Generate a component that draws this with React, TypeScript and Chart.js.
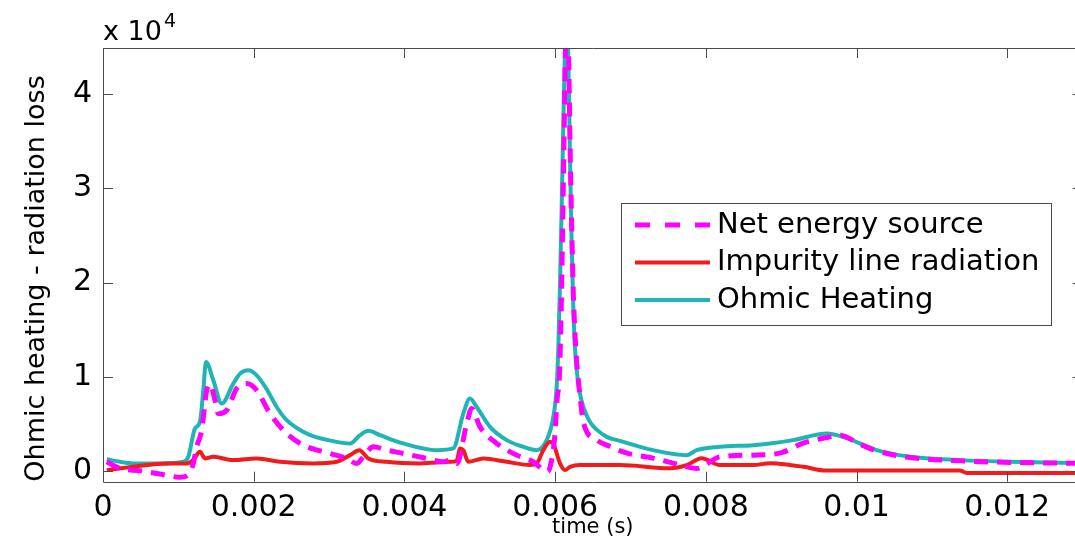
import React, { useEffect, useRef } from 'react';
import { Chart, registerables } from 'chart.js';

Chart.register(...registerables);

// ---------------- data (time in s, value in W) ----------------
const seriesLabels = ['Net energy source', 'Impurity line radiation', 'Ohmic Heating'];

const netT = [
  0.00005, 0.000226, 0.000491, 0.000756, 0.001022, 0.001111, 0.001198, 0.001243, 0.00131, 0.001376,
  0.00142, 0.001486, 0.00153, 0.001642, 0.001774, 0.001907, 0.00204, 0.002216, 0.002438, 0.002658,
  0.003012, 0.003234, 0.003367, 0.003454, 0.003587, 0.003765, 0.003985, 0.004296, 0.004516, 0.004605,
  0.004694, 0.004827, 0.004893, 0.005003, 0.005225, 0.00549, 0.005711, 0.005843, 0.005888, 0.005932,
  0.005999, 0.006025, 0.006056, 0.006078, 0.006098, 0.006118, 0.006138, 0.006158, 0.006178, 0.006198,
  0.00622, 0.006241, 0.006264, 0.006287, 0.00633, 0.006374, 0.006552, 0.006728, 0.006954, 0.007299,
  0.007564, 0.007879, 0.008188, 0.00863, 0.008984, 0.009294, 0.009648, 0.009781, 0.010046, 0.010268,
  0.01071, 0.011373, 0.012037, 0.013,
];
const netV = [
  980, 280, 30, -320, -650, -500, 800, 2570, 4340, 8570,
  9200, 7510, 6100, 6450, 8750, 9280, 8570, 6100, 3990, 2750,
  1870, 1340, 810, 1510, 2570, 2220, 1870, 1340, 980, 1160,
  800, 5040, 6630, 4690, 2930, 1690, 980, 100, -50, 400,
  4000, 7500, 10000, 16000, 25000, 35000, 45000, 50000, 45000, 35000,
  26000, 19000, 14500, 11500, 8000, 5200, 3300, 2600, 1900, 1370,
  840, 280, 1510, 1690, 1900, 2960, 3630, 3800, 2850, 2150,
  1430, 1080, 920, 820,
];

const impurityT = [
  0.00005, 0.000398, 0.000845, 0.001111, 0.001198, 0.001287, 0.001354, 0.001464, 0.001729, 0.00204,
  0.002349, 0.002787, 0.003101, 0.003278, 0.003401, 0.003521, 0.003765, 0.004207, 0.004605, 0.004694,
  0.004738, 0.004781, 0.004848, 0.005047, 0.005358, 0.005667, 0.005756, 0.005843, 0.005932, 0.005976,
  0.006065, 0.006131, 0.006198, 0.00633, 0.006861, 0.007525, 0.007746, 0.007945, 0.008188, 0.00863,
  0.008851, 0.00894, 0.009294, 0.009604, 0.011373, 0.011462, 0.013,
];
const impurityV = [
  100, 450, 810, 810, 1160, 2040, 1340, 1510, 1160, 1340,
  980, 810, 980, 1690, 2220, 1340, 980, 810, 980, 1100,
  2400, 2220, 980, 1340, 980, 630, 810, 2220, 3100, 2900,
  810, 100, 450, 630, 630, 300, 630, 1370, 630, 630,
  840, 810, 450, 50, 50, -200, -200,
];

const ohmicT = [
  0.00005, 0.000226, 0.000398, 0.000756, 0.001066, 0.001132, 0.001221, 0.001287, 0.001331, 0.001367,
  0.001464, 0.001575, 0.001729, 0.001818, 0.001928, 0.00204, 0.002172, 0.002305, 0.002438, 0.002658,
  0.002787, 0.003101, 0.003278, 0.003411, 0.003521, 0.003676, 0.003985, 0.004429, 0.004649, 0.004781,
  0.00487, 0.004959, 0.005136, 0.005358, 0.005578, 0.005756, 0.005888, 0.005976, 0.006021, 0.006042,
  0.006065, 0.006087, 0.006109, 0.006131, 0.006151, 0.006171, 0.006198, 0.00622, 0.006241, 0.006264,
  0.006304, 0.00633, 0.006374, 0.006463, 0.006552, 0.006685, 0.006861, 0.007299, 0.007746, 0.007879,
  0.008188, 0.00863, 0.008851, 0.009157, 0.009604, 0.00987, 0.010046, 0.010268, 0.01071, 0.011373,
  0.012037, 0.013,
];
const ohmicV = [
  1250, 980, 810, 800, 980, 1510, 4520, 5220, 8570, 11570,
  9630, 7160, 9280, 10340, 10690, 10160, 8700, 6800, 5400, 4160,
  3700, 3100, 2930, 3810, 4270, 3810, 2930, 2220, 2400, 6100,
  7690, 6800, 4690, 3280, 2570, 2220, 3280, 5750, 9000, 13000,
  20000, 28000, 37000, 45000, 50000, 46000, 33000, 24000, 17500, 13000,
  9500, 8200, 6800, 5200, 4400, 3630, 3200, 2220, 1690, 2220,
  2570, 2750, 2930, 3280, 3990, 3500, 2930, 2220, 1510, 1160,
  980, 850,
];

// ---------------- axes ----------------
const xMin = 0;
const xMax = 0.013;
const xTicks = [0, 0.002, 0.004, 0.006, 0.008, 0.01, 0.012];
const yMin = -1130;
const yMax = 44900;
const yTicks = [0, 10000, 20000, 30000, 40000];
const yTickLabels = ['0', '1', '2', '3', '4'];
const yExponent = '4';
const yExponentBase = 'x 10';
const xTitle = 'time (s)';
const yTitle = 'Ohmic heating - radiation loss';

// ---------------- styles ----------------
const FONT = '"DejaVu Sans", "Liberation Sans", sans-serif';
const colors = ['#ff00ff', '#f21b1b', '#20b5b5'];
const widths = [5, 4, 4];
const dashes: number[][] = [[14, 9], [], []];
const AXIS_COLOR = '#4a4a4a';

const framePlugin = {
  id: 'matlabFrame',
  afterDatasetsDraw(chart: any) {
    const { ctx, chartArea: a, scales } = chart;
    const xs = scales.x;
    const ys = scales.y;
    ctx.save();
    ctx.strokeStyle = AXIS_COLOR;
    ctx.lineWidth = 1;
    ctx.setLineDash([]);
    ctx.beginPath();
    ctx.rect(Math.round(a.left) + 0.5, Math.round(a.top) + 0.5, Math.round(a.right - a.left), Math.round(a.bottom - a.top));
    for (const t of xs.ticks) {
      const px = Math.round(xs.getPixelForValue(t.value)) + 0.5;
      ctx.moveTo(px, a.bottom);
      ctx.lineTo(px, a.bottom - 10);
      ctx.moveTo(px, a.top);
      ctx.lineTo(px, a.top + 10);
    }
    for (const t of ys.ticks) {
      const py = Math.round(ys.getPixelForValue(t.value)) + 0.5;
      ctx.moveTo(a.left, py);
      ctx.lineTo(a.left + 10, py);
      ctx.moveTo(a.right, py);
      ctx.lineTo(a.right - 10, py);
    }
    ctx.stroke();
    ctx.restore();
  },
  afterDraw(chart: any) {
    const { ctx, chartArea: a } = chart;
    ctx.save();
    // exponent label
    ctx.fillStyle = '#000';
    ctx.textBaseline = 'alphabetic';
    ctx.textAlign = 'left';
    ctx.font = `27px ${FONT}`;
    ctx.fillText(yExponentBase, a.left, a.top - 8);
    const w = ctx.measureText(yExponentBase).width;
    ctx.font = `19px ${FONT}`;
    ctx.fillText(yExponent, a.left + w + 2, a.top - 21);

    // legend
    const ds = chart.data.datasets;
    const boxLeft = 621.5;
    const boxTop = 203.5;
    const rowY0 = 225;
    const rowGap = 37.5;
    const sampleX0 = 635;
    const sampleX1 = 710;
    const textX = 717;
    ctx.font = `29px ${FONT}`;
    let maxW = 0;
    ds.forEach((d: any) => { maxW = Math.max(maxW, ctx.measureText(d.label).width); });
    const boxRight = Math.round(textX + maxW + 12) + 0.5;
    const boxBottom = 325.5;
    ctx.fillStyle = '#fff';
    ctx.fillRect(boxLeft, boxTop, boxRight - boxLeft, boxBottom - boxTop);
    ctx.strokeStyle = AXIS_COLOR;
    ctx.lineWidth = 1;
    ctx.strokeRect(boxLeft, boxTop, boxRight - boxLeft, boxBottom - boxTop);
    ds.forEach((d: any, i: number) => {
      const y = rowY0 + i * rowGap;
      ctx.beginPath();
      ctx.strokeStyle = d.borderColor;
      ctx.lineWidth = d.borderWidth;
      ctx.setLineDash(d.borderDash && d.borderDash.length ? [15, 15] : []);
      ctx.moveTo(sampleX0, y);
      ctx.lineTo(sampleX1, y);
      ctx.stroke();
      ctx.setLineDash([]);
      ctx.fillStyle = '#000';
      ctx.textBaseline = 'middle';
      ctx.textAlign = 'left';
      ctx.fillText(d.label, textX, y);
    });
    ctx.restore();
  },
};

export default function App() {
  const ref = useRef<HTMLCanvasElement | null>(null);

  useEffect(() => {
    if (!ref.current) return;
    const mk = (T: number[], V: number[]) => T.map((t, i) => ({ x: t, y: V[i] }));
    const seriesData = [mk(netT, netV), mk(impurityT, impurityV), mk(ohmicT, ohmicV)];
    const chart = new Chart(ref.current, {
      type: 'line',
      data: {
        datasets: seriesData.map((d, i) => ({
          label: seriesLabels[i],
          data: d,
          borderColor: colors[i],
          backgroundColor: colors[i],
          borderWidth: widths[i],
          borderDash: dashes[i],
          pointRadius: 0,
          fill: false,
          cubicInterpolationMode: 'monotone' as const,
          clip: 0,
        })),
      },
      options: {
        animation: false,
        responsive: false,
        devicePixelRatio: 1,
        layout: { padding: { left: 0, right: 17.4, top: 48, bottom: 0 } },
        plugins: { legend: { display: false }, tooltip: { enabled: false } },
        scales: {
          x: {
            type: 'linear',
            bounds: 'data',
            min: xMin,
            max: xMax,
            grid: { display: false, drawTicks: false },
            border: { display: false },
            afterBuildTicks: (s: any) => { s.ticks = xTicks.map((v) => ({ value: v })); },
            ticks: {
              maxRotation: 0,
              autoSkip: false,
              padding: 9,
              color: '#000',
              font: { family: FONT, size: 30 },
              callback: (v: any) => String(Number(Number(v).toFixed(6))),
            },
            title: {
              display: true,
              text: xTitle,
              color: '#000',
              font: { family: FONT, size: 21 },
              padding: { top: 0, bottom: 0 },
            },
            afterFit: (s: any) => { s.height = 58.3; },
          },
          y: {
            type: 'linear',
            bounds: 'data',
            min: yMin,
            max: yMax,
            grid: { display: false, drawTicks: false },
            border: { display: false },
            afterBuildTicks: (s: any) => { s.ticks = yTicks.map((v) => ({ value: v })); },
            ticks: {
              autoSkip: false,
              padding: 11,
              color: '#000',
              font: { family: FONT, size: 30 },
              callback: (v: any, i: number) => yTickLabels[i] ?? String(Math.round(Number(v) / 10000)),
            },
            title: {
              display: true,
              text: yTitle,
              align: 'start',
              color: '#000',
              font: { family: FONT, size: 27 },
              padding: { top: 21, bottom: 0 },
            },
            afterFit: (s: any) => { s.width = 103; },
          },
        },
      },
      plugins: [framePlugin],
    });
    return () => chart.destroy();
  }, []);

  return (
    <div style={{ position: 'fixed', left: 0, top: 0, width: 1075, height: 540, overflow: 'hidden', background: '#fff' }}>
      <canvas ref={ref} width={1100} height={540} style={{ display: 'block' }} />
    </div>
  );
}
